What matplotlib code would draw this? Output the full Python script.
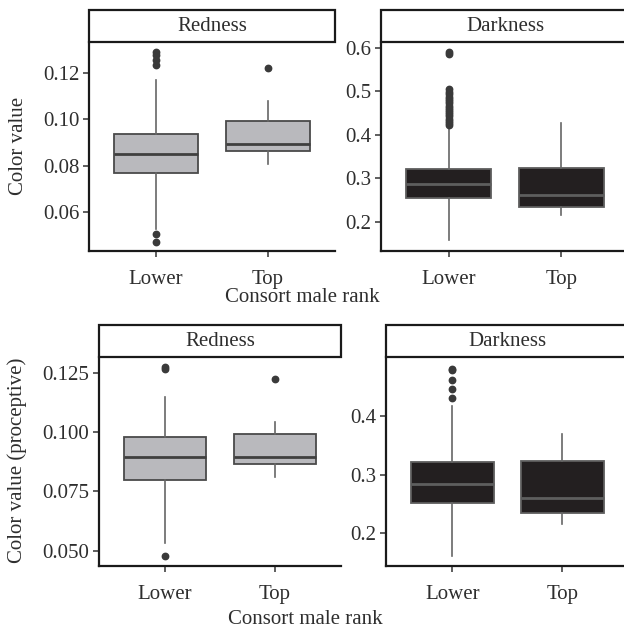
import matplotlib
matplotlib.use("Agg")
import matplotlib.pyplot as plt
from matplotlib.patches import Rectangle

# ─────────────────────────────────────────────
# DATA
# ─────────────────────────────────────────────

RANKS = ["Lower", "Top"]

# per box: whisker low, Q1, median, Q3, whisker high
RED_ALL   = [[0.0525, 0.0767, 0.0852, 0.0938, 0.1170],
             [0.0809, 0.0862, 0.0895, 0.0994, 0.1081]]
RED_ALL_OUT = [[0.0505, 0.0470, 0.1235, 0.1256, 0.1278, 0.1292],
               [0.1223]]

DARK_ALL  = [[0.157, 0.254, 0.286, 0.3207, 0.417],
             [0.2155, 0.233, 0.2616, 0.323, 0.428]]
DARK_ALL_OUT = [[0.422, 0.427, 0.432, 0.437, 0.442, 0.447, 0.452, 0.457,
                 0.462, 0.467, 0.472, 0.477, 0.482, 0.487, 0.493, 0.499,
                 0.505, 0.585, 0.590],
                []]

RED_PRO   = [[0.0530, 0.0799, 0.0896, 0.0977, 0.1146],
             [0.0810, 0.0865, 0.0893, 0.0992, 0.1042]]
RED_PRO_OUT = [[0.0476, 0.1265, 0.1272],
               [0.1225]]

DARK_PRO  = [[0.1607, 0.2516, 0.2840, 0.3222, 0.418],
             [0.2160, 0.2342, 0.2598, 0.3228, 0.370]]
DARK_PRO_OUT = [[0.430, 0.447, 0.462, 0.478, 0.481],
                []]

YTICKS_TL = [0.06, 0.08, 0.10, 0.12]
YTICKS_TR = [0.2, 0.3, 0.4, 0.5, 0.6]
YTICKS_BL = [0.050, 0.075, 0.100, 0.125]
YTICKS_BR = [0.2, 0.3, 0.4]

# ─────────────────────────────────────────────
# STYLE
# ─────────────────────────────────────────────

FONT = "Liberation Serif"
FS = 15
TXT = "#2e2e2e"
plt.rcParams["font.family"] = [FONT, "DejaVu Serif"]

GRAY_FILL, GRAY_EDGE = "#b9b9bd", "#4a4a4a"
DARK_FILL, DARK_EDGE = "#231f20", "#5e5e5e"


def make_stats(boxes, outliers):
    stats = []
    for b, o in zip(boxes, outliers):
        stats.append(dict(whislo=b[0], q1=b[1], med=b[2], q3=b[3],
                          whishi=b[4], fliers=o))
    return stats


def panel(fig, rect, strip_rect, title, boxes, outliers, yticks, ylim,
          fill, edge, med_color, fmt):
    ax = fig.add_axes(rect)
    ax.bxp(make_stats(boxes, outliers), positions=[1, 2], widths=0.75,
           patch_artist=True, showcaps=False,
           boxprops=dict(facecolor=fill, edgecolor=edge, linewidth=1.3),
           medianprops=dict(color=med_color, linewidth=2.0),
           whiskerprops=dict(color="#666666", linewidth=1.2),
           flierprops=dict(marker="o", markerfacecolor="#3a3a3a",
                           markeredgecolor="#3a3a3a", markersize=4.6))
    ax.set_xlim(0.4, 2.6)
    ax.set_ylim(*ylim)
    ax.set_xticks([1, 2])
    ax.set_xticklabels(RANKS)
    ax.set_yticks(yticks)
    ax.set_yticklabels([fmt.format(v) for v in yticks])
    for s in ["top", "right"]:
        ax.spines[s].set_visible(False)
    for s in ["left", "bottom"]:
        ax.spines[s].set_linewidth(1.6)
        ax.spines[s].set_color("#1a1a1a")
    ax.tick_params(length=4, width=1.1, color="#333333", labelsize=FS,
                   labelcolor=TXT, pad=3)
    ax.tick_params(axis="x", pad=10)

    sx = fig.add_axes(strip_rect)
    sx.set_xlim(0, 1)
    sx.set_ylim(0, 1)
    sx.axis("off")
    sx.add_patch(Rectangle((0, 0), 1, 1, facecolor="white",
                           edgecolor="#1a1a1a", linewidth=1.6,
                           clip_on=False))
    sx.text(0.5, 0.5, title, ha="center", va="center", fontsize=FS,
            color=TXT)
    return ax


fig = plt.figure(figsize=(6.24, 6.30), dpi=100)

panel(fig, [0.1426, 0.6016, 0.394, 0.3317], [0.1426, 0.9333, 0.394, 0.0508],
      "Redness", RED_ALL, RED_ALL_OUT, YTICKS_TL, (0.0432, 0.1334),
      GRAY_FILL, GRAY_EDGE, "#3f3f3f", "{:.2f}")
panel(fig, [0.6106, 0.6016, 0.3974, 0.3317], [0.6106, 0.9333, 0.3974, 0.0508],
      "Darkness", DARK_ALL, DARK_ALL_OUT, YTICKS_TR, (0.1327, 0.613),
      DARK_FILL, DARK_EDGE, "#5e5e5e", "{:.1f}")
panel(fig, [0.1587, 0.1016, 0.3878, 0.3317], [0.1587, 0.4333, 0.3878, 0.0508],
      "Redness", RED_PRO, RED_PRO_OUT, YTICKS_BL, (0.0435, 0.1316),
      GRAY_FILL, GRAY_EDGE, "#3f3f3f", "{:.3f}")
panel(fig, [0.6191, 0.1016, 0.3878, 0.3317], [0.6191, 0.4333, 0.3878, 0.0508],
      "Darkness", DARK_PRO, DARK_PRO_OUT, YTICKS_BR, (0.1436, 0.5009),
      DARK_FILL, DARK_EDGE, "#5e5e5e", "{:.1f}")

fig.text(0.030, 1 - 146 / 630, "Color value", rotation=90, ha="center",
         va="center", fontsize=FS, color=TXT)
fig.text(0.028, 1 - 460 / 630, "Color value (proceptive)", rotation=90,
         ha="center", va="center", fontsize=FS, color=TXT)
fig.text(302 / 624, 1 - 298 / 630, "Consort male rank", ha="center",
         va="center", fontsize=FS, color=TXT)
fig.text(305 / 624, 1 - 620 / 630, "Consort male rank", ha="center",
         va="center", fontsize=FS, color=TXT)

fig.savefig("out.png", dpi=100)
